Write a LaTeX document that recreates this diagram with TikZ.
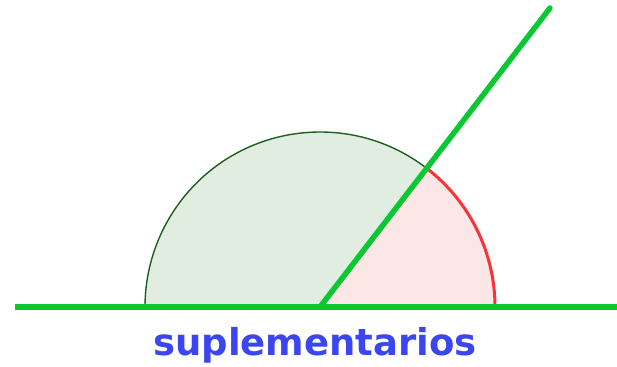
\documentclass[tikz,border=0pt]{standalone}
\usepackage{fontspec}
\setsansfont{DejaVu Sans}
\definecolor{linegreen}{RGB}{10,200,50}
\definecolor{fillgreen}{RGB}{226,237,226}
\definecolor{darkgreen}{RGB}{30,95,30}
\definecolor{fillred}{RGB}{253,230,230}
\definecolor{arcred}{RGB}{250,50,60}
\definecolor{textblue}{RGB}{60,70,240}
\begin{document}
\begin{tikzpicture}[x=1pt,y=1pt]
                \useasboundingbox (0,0) rectangle (617,366);
                \coordinate (O) at (320,59);
                \coordinate (L) at (15,59);
                \coordinate (Rt) at (617,59);
                \coordinate (R) at (550,358);
                \fill[fillgreen] (O) -- ++(52.43:175) arc[start angle=52.43, end angle=180, radius=175] -- cycle;
                \fill[fillred] (O) -- ++(0:175) arc[start angle=0, end angle=52.43, radius=175] -- cycle;
                \draw[darkgreen, line width=1.4] (O) ++(52.43:175) arc[start angle=52.43, end angle=180, radius=175];
                \draw[arcred, line width=3] (O) ++(0:175) arc[start angle=0, end angle=52.43, radius=175];
                \draw[linegreen, line width=5.5] (L) -- (Rt);
                \draw[linegreen, line width=5.5, line cap=round] (O) -- (R);
                \node[textblue, font=\sffamily\bfseries\fontsize{37}{44}\selectfont] (lbl) at (315,21) {suplementarios};
            \end{tikzpicture}
\end{document}
